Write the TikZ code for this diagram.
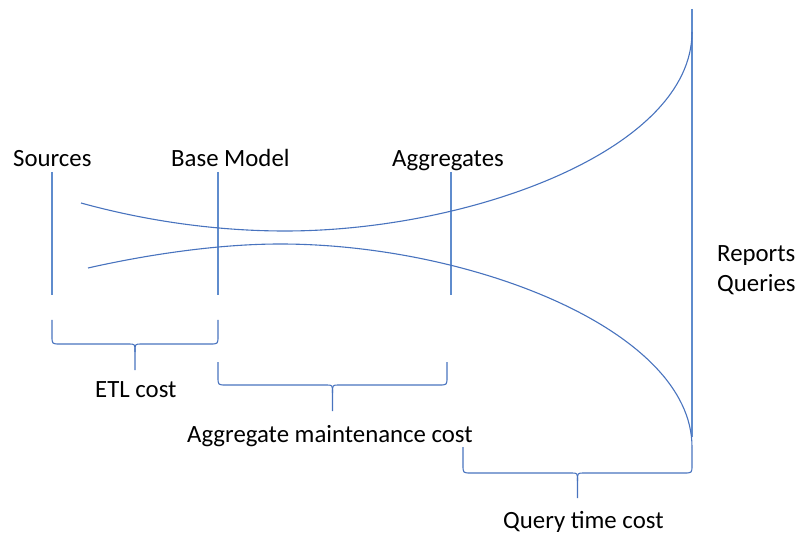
\documentclass[tikz,border=0pt]{standalone}
\usepackage{fontspec}
\setmainfont{Carlito}
\definecolor{curveblue}{RGB}{72,115,190}
\definecolor{markblue}{RGB}{95,140,205}
\tikzset{
  lbl/.style={inner sep=0pt, font=\fontsize{24.8}{30}\selectfont, text=black},
  marker/.style={draw=markblue, line width=1.1pt},
  flow/.style={draw=curveblue, line width=1.1pt},
  bracepath/.style={draw=curveblue, line width=1.1pt, line join=round}
}
% curly brace: #1 left x, #2 right x, #3 end top y, #4 bar y, #5 tip y
\newcommand\costbrace[5]{%
  \pgfmathsetmacro\bmid{(#1+#2)/2}%
  \draw[bracepath] (#1,#3) -- (#1,#4-8) .. controls (#1,#4) .. (#1+8,#4)
     -- (\bmid-6,#4) .. controls (\bmid,#4) .. (\bmid,#4+8) -- (\bmid,#5);
  \draw[bracepath] (\bmid,#4+8) .. controls (\bmid,#4) .. (\bmid+6,#4)
     -- (#2-8,#4) .. controls (#2,#4) .. (#2,#4-8) -- (#2,#3);
}
\begin{document}
\begin{tikzpicture}[x=1pt,y=-1pt]
\useasboundingbox (0,0) rectangle (798,537);

% stage labels
\node[lbl, anchor=base west] (src) at (13,167) {Sources};
\node[lbl, anchor=base west] (base) at (171,167) {Base Model};
\node[lbl, anchor=base west] (agg) at (392,167) {Aggregates};
\node[lbl, anchor=base west] (rep) at (717,262) {Reports};
\node[lbl, anchor=base west] (qry) at (717,292) {Queries};

% stage markers
\coordinate (srcT) at (52,172);  \coordinate (srcB) at (52,295);
\coordinate (baseT) at (218,172); \coordinate (baseB) at (218,295);
\coordinate (aggT) at (451,172); \coordinate (aggB) at (451,295);
\coordinate (repT) at (692,9);   \coordinate (repB) at (692,437);
\draw[marker] (srcT) -- (srcB);
\draw[marker] (baseT) -- (baseB);
\draw[marker] (aggT) -- (aggB);
\draw[marker] (repT) -- (repB);

% funnel outline
\draw[flow] (81,203) .. controls (150,222) and (220,231) .. (285,231)
            .. controls (470,231) and (692,150) .. (692,32);
\draw[flow] (88,268) .. controls (150,254) and (220,244) .. (280,244)
            .. controls (470,244) and (692,330) .. (692,447);

% cost braces
\costbrace{52}{218}{320}{344}{370}
\costbrace{218}{447}{362}{385}{411}
\costbrace{463}{692}{447}{473}{498}

% cost labels
\node[lbl, anchor=base west] (etl) at (95,397) {ETL cost};
\node[lbl, anchor=base west] (amc) at (187,442) {Aggregate maintenance cost};
\node[lbl, anchor=base west] (qtc) at (503,528) {Query time cost};
\end{tikzpicture}
\end{document}
